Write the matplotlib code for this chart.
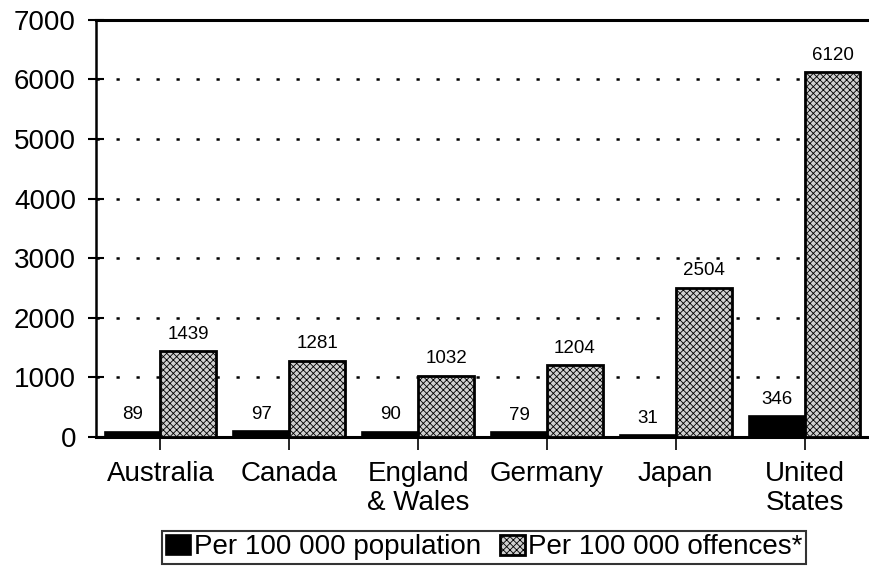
import matplotlib
matplotlib.use('Agg')
import matplotlib.pyplot as plt
import numpy as np

plt.rcParams['font.family'] = ['Liberation Sans', 'DejaVu Sans']
plt.rcParams['hatch.linewidth'] = 0.6

# Data
countries = ['Australia', 'Canada', 'England\n& Wales', 'Germany', 'Japan', 'United\nStates']
per_population = [89, 97, 90, 79, 31, 346]
per_offences = [1439, 1281, 1032, 1204, 2504, 6120]
yticks = [0, 1000, 2000, 3000, 4000, 5000, 6000, 7000]

fig = plt.figure(figsize=(8.69, 5.69), dpi=100)
ax = fig.add_axes([0.1105, 0.232, 0.8895, 0.733])

x = np.arange(len(countries))
w = 0.434

bars_pop = ax.bar(x - w / 2, per_population, w, color='black', edgecolor='black',
                  linewidth=1.2, label='Per 100 000 population', zorder=3)
plt.rcParams['hatch.color'] = '#7a7a7a'
bars_off = ax.bar(x + w / 2, per_offences, w, color='#cfcfcf', edgecolor='black',
                  linewidth=2.0, hatch='xxxxx', label='Per 100 000 offences*', zorder=3)

# value labels above each bar
for bars, vals in [(bars_pop, per_population), (bars_off, per_offences)]:
    for b, v in zip(bars, vals):
        ax.annotate(str(v), (b.get_x() + b.get_width() / 2, b.get_height()),
                    xytext=(0, 6), textcoords='offset points',
                    ha='center', va='bottom', fontsize=13.5)

ax.set_xlim(-0.5, len(countries) - 0.5)
ax.set_ylim(0, 7000)
ax.set_yticks(yticks)
ax.set_xticks(x)
ax.set_xticklabels(countries, fontsize=20, linespacing=1.15)
ax.tick_params(axis='y', labelsize=20, direction='inout', length=11, width=1.5, pad=9)
ax.tick_params(axis='x', direction='out', length=9, width=1.2, pad=8)

# dotted horizontal gridlines
for yv in yticks[1:-1]:
    ax.axhline(yv, color='black', linewidth=1.8, linestyle=(0, (1.3, 6.7)), zorder=1)

ax.spines['right'].set_visible(False)
ax.spines['top'].set_linewidth(2.2)
ax.spines['left'].set_linewidth(1.8)
ax.spines['bottom'].set_linewidth(2.2)

leg = fig.legend(loc='center', bbox_to_anchor=(0.557, 0.038), ncol=2, fontsize=20,
                 frameon=True, fancybox=False, edgecolor='black', handlelength=0.9,
                 handleheight=0.75, handletextpad=0.1, columnspacing=0.7,
                 borderpad=0.12, borderaxespad=0)
leg.get_frame().set_linewidth(1.5)

fig.savefig('out.png', dpi=100)
